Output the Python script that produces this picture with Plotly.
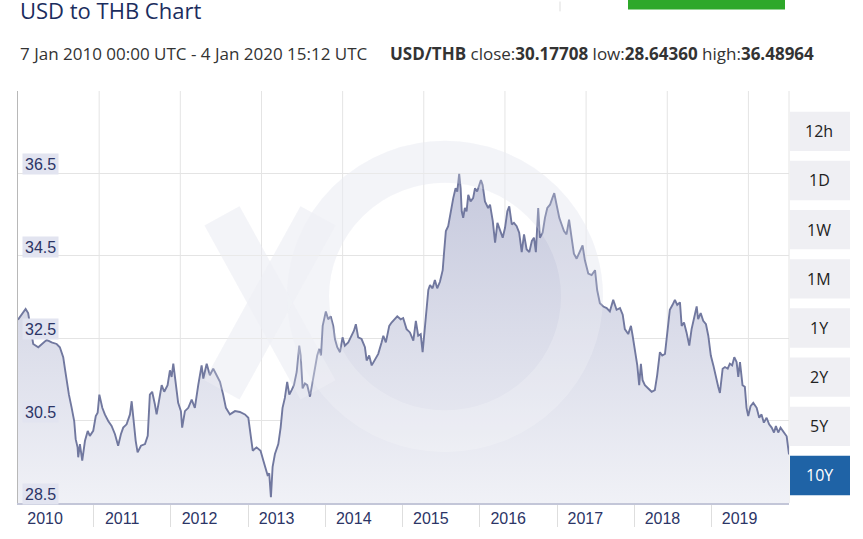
import plotly.graph_objects as go

# ---------------- data ----------------
dates = [
    "2010-01-07", "2010-02-12", "2010-02-24", "2010-03-09", "2010-03-20", "2010-04-13", "2010-04-29",
    "2010-05-23", "2010-06-15", "2010-07-09", "2010-07-24", "2010-08-09", "2010-08-17", "2010-08-25",
    "2010-09-05", "2010-09-18", "2010-09-30", "2010-10-07", "2010-10-16", "2010-10-19", "2010-10-27",
    "2010-11-07", "2010-11-20", "2010-12-03", "2010-12-13", "2010-12-29",
    "2011-01-10", "2011-01-19", "2011-01-27", "2011-02-10", "2011-02-22", "2011-03-10", "2011-03-26",
    "2011-04-11", "2011-04-26", "2011-05-09", "2011-05-20", "2011-06-05", "2011-06-21", "2011-06-29",
    "2011-07-06", "2011-07-18", "2011-07-27", "2011-08-12", "2011-08-31", "2011-09-13", "2011-09-23",
    "2011-10-04", "2011-10-17", "2011-10-25", "2011-11-05", "2011-11-18", "2011-11-30", "2011-12-16",
    "2011-12-27",
    "2012-01-04", "2012-01-12", "2012-01-23", "2012-02-04", "2012-02-17", "2012-02-23", "2012-03-07",
    "2012-03-23", "2012-04-08", "2012-04-23", "2012-05-09", "2012-05-25", "2012-06-02", "2012-06-18",
    "2012-07-03", "2012-07-19", "2012-08-04", "2012-08-20", "2012-09-04", "2012-09-17", "2012-10-06",
    "2012-10-30", "2012-11-22", "2012-12-16",
    "2013-01-01", "2013-01-09", "2013-01-22", "2013-02-09", "2013-02-28", "2013-03-13", "2013-03-25",
    "2013-04-02", "2013-04-10", "2013-04-18", "2013-04-26", "2013-05-07", "2013-05-23", "2013-06-03",
    "2013-06-12", "2013-06-23", "2013-07-04", "2013-07-14", "2013-07-25", "2013-08-05", "2013-08-18",
    "2013-08-30", "2013-09-06", "2013-09-15", "2013-09-26", "2013-10-07", "2013-10-20", "2013-11-01",
    "2013-11-12", "2013-11-23", "2013-12-03", "2013-12-11", "2013-12-19",
    "2014-01-03", "2014-01-14", "2014-01-26", "2014-02-07", "2014-02-15", "2014-02-26", "2014-03-11",
    "2014-03-23", "2014-04-03", "2014-04-19", "2014-05-05", "2014-05-16", "2014-05-25", "2014-06-05",
    "2014-06-21", "2014-07-07", "2014-07-15", "2014-07-27", "2014-08-08", "2014-08-23", "2014-09-08",
    "2014-09-24", "2014-10-02", "2014-10-14", "2014-10-30", "2014-11-10", "2014-11-26", "2014-12-07",
    "2014-12-23",
    "2015-01-04", "2015-01-20", "2015-02-05", "2015-02-21", "2015-03-05", "2015-03-16", "2015-03-28",
    "2015-04-06", "2015-04-17", "2015-04-28", "2015-05-03", "2015-05-11", "2015-05-23", "2015-06-03",
    "2015-06-14", "2015-06-27", "2015-07-10", "2015-07-16", "2015-07-25", "2015-08-05", "2015-08-17",
    "2015-08-29", "2015-09-09", "2015-09-17", "2015-09-26", "2015-10-03", "2015-10-08", "2015-10-15",
    "2015-10-23", "2015-10-31", "2015-11-08", "2015-11-19", "2015-12-01", "2015-12-10", "2015-12-20",
    "2015-12-30",
    "2016-01-07", "2016-01-15", "2016-01-26", "2016-02-10", "2016-02-19", "2016-03-03", "2016-03-14",
    "2016-03-25", "2016-04-06", "2016-04-19", "2016-04-30", "2016-05-11", "2016-05-20", "2016-06-01",
    "2016-06-11", "2016-06-24", "2016-07-06", "2016-07-18", "2016-07-29", "2016-08-10", "2016-08-23",
    "2016-09-04", "2016-09-14", "2016-09-23", "2016-10-04", "2016-10-12", "2016-10-25", "2016-11-05",
    "2016-11-16", "2016-11-29", "2016-12-10", "2016-12-19", "2016-12-30",
    "2017-01-12", "2017-01-23", "2017-02-03", "2017-02-15", "2017-02-27", "2017-03-11", "2017-03-22",
    "2017-04-04", "2017-04-20", "2017-05-02", "2017-05-13", "2017-05-29", "2017-06-14", "2017-06-30",
    "2017-07-10", "2017-07-23", "2017-08-08", "2017-08-24", "2017-09-08", "2017-09-24", "2017-10-10",
    "2017-10-26", "2017-11-08", "2017-11-18", "2017-12-04", "2017-12-17", "2017-12-25",
    "2018-01-05", "2018-01-16", "2018-01-25", "2018-02-02", "2018-02-10", "2018-02-21", "2018-03-09",
    "2018-03-25", "2018-04-09", "2018-04-20", "2018-05-03", "2018-05-14", "2018-05-27", "2018-06-07",
    "2018-06-19", "2018-07-02", "2018-07-13", "2018-07-24", "2018-08-06", "2018-08-14", "2018-08-25",
    "2018-09-06", "2018-09-19", "2018-09-30", "2018-10-11", "2018-10-24", "2018-10-31", "2018-11-12",
    "2018-11-24", "2018-12-07", "2018-12-18", "2018-12-30",
    "2019-01-11", "2019-01-23", "2019-02-03", "2019-02-11", "2019-02-24", "2019-03-07", "2019-03-20",
    "2019-03-30", "2019-04-10", "2019-04-20", "2019-05-01", "2019-05-09", "2019-05-17", "2019-05-29",
    "2019-06-09", "2019-06-17", "2019-06-25", "2019-07-06", "2019-07-19", "2019-08-04", "2019-08-16",
    "2019-08-27", "2019-09-07", "2019-09-20", "2019-10-02", "2019-10-14", "2019-10-25", "2019-11-03",
    "2019-11-14", "2019-11-25", "2019-12-08", "2019-12-17", "2019-12-24", "2020-01-04",
]

rates = [
    32.95, 33.21, 33.11, 32.72, 32.36, 32.28, 32.36, 32.46, 32.40, 32.36, 32.28, 32.04, 31.76, 31.44,
    31.13, 30.81, 30.49, 30.05, 29.85, 29.61, 29.93, 29.53, 30.01, 30.25, 30.13, 30.25,
    30.61, 30.69, 31.13, 30.81, 30.65, 30.49, 30.37, 30.17, 29.89, 30.17, 30.33, 30.41, 30.65, 30.97,
    30.57, 30.01, 29.73, 29.89, 29.93, 30.13, 31.13, 31.20, 30.89, 30.65, 30.97, 31.36, 31.20, 31.36,
    31.72,
    31.56, 31.88, 31.36, 30.93, 30.73, 30.33, 30.73, 30.81, 31.01, 30.81, 31.36, 31.84, 31.52, 31.88,
    31.60, 31.76, 31.60, 31.44, 31.13, 30.81, 30.65, 30.73, 30.71, 30.65,
    30.57, 30.25, 29.77, 29.85, 29.77, 29.53, 29.34, 29.18, 29.22, 28.64, 29.38, 29.69, 29.93, 30.33,
    30.81, 31.05, 31.44, 31.13, 31.24, 31.36, 31.68, 32.32, 32.08, 31.28, 31.40, 31.36, 31.08, 31.44,
    31.68, 32.08, 32.24, 32.08, 32.80,
    33.15, 32.96, 33.03, 32.80, 32.48, 32.28, 32.16, 32.52, 32.32, 32.40, 32.56, 32.68, 32.84, 32.52,
    32.48, 32.28, 31.96, 32.08, 31.84, 31.96, 32.12, 32.40, 32.56, 32.40, 32.80, 32.88, 32.96, 33.03,
    32.96,
    32.99, 32.72, 32.64, 32.44, 32.92, 32.56, 32.60, 32.16, 32.80, 33.43, 33.67, 33.79, 33.71, 33.91,
    33.71, 33.87, 34.15, 34.55, 35.10, 35.22, 35.58, 35.90, 36.14, 36.06, 36.49, 36.14, 35.58, 35.42,
    35.66, 35.58, 35.98, 35.82, 35.90, 36.14, 36.06, 36.22,
    36.34, 36.22, 35.82, 35.66, 35.74, 35.34, 34.82, 35.30, 35.14, 34.94, 35.18, 35.58, 35.70, 35.26,
    35.30, 35.22, 35.06, 34.59, 35.02, 34.66, 34.59, 34.86, 34.94, 34.59, 35.66, 34.94, 35.06, 35.42,
    35.66, 35.74, 35.90, 36.02, 35.74,
    35.42, 35.26, 35.10, 35.02, 35.38, 34.94, 34.55, 34.43, 34.63, 34.75, 34.39, 34.07, 34.03, 34.15,
    33.67, 33.35, 33.27, 33.23, 33.15, 33.43, 33.19, 33.23, 33.07, 32.72, 32.60, 32.80, 32.56,
    32.24, 31.84, 31.36, 31.88, 31.48, 31.36, 31.28, 31.20, 31.24, 31.60, 32.16, 32.08, 32.12, 32.72,
    33.19, 33.31, 33.43, 33.31, 33.37, 32.80, 32.88, 32.64, 32.32, 32.72, 32.96, 33.27, 32.96, 33.11,
    32.92, 32.84, 32.56, 32.08,
    31.84, 31.52, 31.32, 31.17, 31.76, 31.80, 31.76, 31.88, 31.84, 32.04, 31.92, 31.56, 31.92, 31.36,
    31.32, 30.81, 30.61, 30.85, 30.93, 30.81, 30.57, 30.65, 30.45, 30.57, 30.41, 30.33, 30.21, 30.37,
    30.21, 30.33, 30.25, 30.17, 30.12, 29.68,
]

y_tick_values = [28.5, 30.5, 32.5, 34.5, 36.5]
y_grid_step = 2
y_range = [28.5, 38.5]
year_labels = ["2010", "2011", "2012", "2013", "2014", "2015", "2016", "2017", "2018", "2019"]
range_buttons = ["12h", "1D", "1W", "1M", "1Y", "2Y", "5Y", "10Y"]
active_button = "10Y"

title_text = "USD to THB Chart"
period_text = "7 Jan 2010 00:00 UTC - 4 Jan 2020 15:12 UTC"
pair_name = "USD/THB"
close_value = "30.17708"
low_value = "28.64360"
high_value = "36.48964"

# ---------------- layout helpers ----------------
W, H = 863, 539
ML, MR, MT, MB = 18, 74, 91, 29
PW, PH = W - ML - MR, H - MT - MB


def px(x):
    return (x - ML) / PW


def py(y):
    return (H - MB - y) / PH


label_dates = [f"{y}-05-15" for y in year_labels]
year_starts = [f"{y}-01-01" for y in year_labels[1:]]

NAVY = "#2c3566"
AXIS_FONT = "Liberation Sans, Arial, sans-serif"
UI_FONT = "Open Sans, Noto Sans, sans-serif"

fig = go.Figure()

fig.add_trace(go.Scatter(
    x=dates, y=rates, mode="lines",
    line=dict(color="#71789f", width=1.9),
    fill="tozeroy",
    fillgradient=dict(type="vertical", start=28.5, stop=36.5,
                      colorscale=[[0, "#f1f2f7"], [1, "#c6c9dd"]]),
    hoverinfo="skip", showlegend=False,
))

shapes = []
# vertical grid (independent of the dates, as in the reference)
n_vgrid = 9
for k in range(1, n_vgrid + 1):
    shapes.append(dict(type="line", xref="paper", yref="paper", x0=k / 9.5, x1=k / 9.5, y0=0, y1=1,
                       line=dict(color="#e4e4e4", width=1), layer="below"))
# right border of plot
shapes.append(dict(type="line", xref="paper", yref="paper", x0=1, x1=1, y0=0, y1=1,
                   line=dict(color="#e4e4e4", width=1), layer="below"))

# watermark (faint "xe")
wm_gray = "rgba(222,225,236,0.42)"
wm_white = "rgba(255,255,255,0.2)"
for col, lay in ((wm_gray, "below"), (wm_white, "above")):
    shapes.append(dict(type="circle", xref="paper", yref="paper",
                       x0=px(445 - 137), x1=px(445 + 137), y0=py(437), y1=py(163),
                       line=dict(color=col, width=42), fillcolor="rgba(0,0,0,0)", layer=lay))
    shapes.append(dict(type="line", xref="paper", yref="paper",
                       x0=px(222), y0=py(218), x1=px(318), y1=py(395),
                       line=dict(color=col, width=40), layer=lay))
    shapes.append(dict(type="line", xref="paper", yref="paper",
                       x0=px(318), y0=py(218), x1=px(222), y1=py(395),
                       line=dict(color=col, width=40), layer=lay))

# top decorations
shapes.append(dict(type="rect", xref="paper", yref="paper", x0=px(628), x1=px(785), y0=py(8), y1=py(-2),
                   fillcolor="#2ea82a", line=dict(width=0)))
shapes.append(dict(type="line", xref="paper", yref="paper", x0=px(560), x1=px(560), y0=py(10), y1=py(0),
                   line=dict(color="#dddddd", width=1)))

annotations = []
# y labels with tinted boxes
for v in y_tick_values:
    annotations.append(dict(
        x=0, xref="paper", xanchor="left", xshift=4,
        y=v, yref="y", yanchor="bottom", yshift=-2,
        text=f"{v}", showarrow=False,
        font=dict(family=AXIS_FONT, size=16, color=NAVY),
        bgcolor="#e2e4f0", borderpad=2, height=16,
    ))

# range buttons
for i, b in enumerate(range_buttons):
    top = 112 + 50 * i
    on = (b == active_button)
    shapes.append(dict(type="rect", xref="paper", yref="paper",
                       x0=px(790), x1=px(850), y0=py(top + 40), y1=py(top),
                       fillcolor="#1f63a6" if on else "#efeff3", line=dict(width=0)))
    annotations.append(dict(x=px(819), y=py(top + 20), xref="paper", yref="paper",
                            text=b, showarrow=False, xanchor="center", yanchor="middle",
                            font=dict(family=UI_FONT, size=16, color="#ffffff" if on else "#222222")))

# header texts
annotations.append(dict(x=0, y=py(9), xref="paper", yref="paper", xanchor="left", yanchor="middle",
                        text=title_text, showarrow=False,
                        font=dict(family=UI_FONT, size=22, color="#1b2d5e")))
annotations.append(dict(x=0, y=py(53), xref="paper", yref="paper", xanchor="left", yanchor="middle",
                        text=period_text, showarrow=False,
                        font=dict(family=UI_FONT, size=17, color="#333333")))
annotations.append(dict(x=px(388), y=py(53), xref="paper", yref="paper", xanchor="left", yanchor="middle",
                        text=(f"<b>{pair_name}</b> close:<b>{close_value}</b> "
                              f"low:<b>{low_value}</b> high:<b>{high_value}</b>"),
                        showarrow=False,
                        font=dict(family=UI_FONT, size=17, color="#333333")))

fig.update_layout(
    width=W, height=H,
    margin=dict(l=ML, r=MR, t=MT, b=MB, pad=0),
    paper_bgcolor="#ffffff", plot_bgcolor="#ffffff",
    showlegend=False, hovermode=False,
    shapes=shapes, annotations=annotations,
    xaxis=dict(
        type="date", range=[dates[0], dates[-1]],
        tickmode="array", tickvals=label_dates, ticktext=year_labels,
        ticks="", showgrid=False, zeroline=False,
        showline=True, linecolor="#c3c6d8", linewidth=1.5,
        tickfont=dict(family=AXIS_FONT, size=16, color=NAVY),
        minor=dict(tickmode="array", tickvals=year_starts, ticks="outside", ticklen=22,
                   tickcolor="#dedede", tickwidth=1, showgrid=False),
        fixedrange=True,
    ),
    yaxis=dict(
        range=y_range, tick0=y_range[0], dtick=y_grid_step, tickmode="linear",
        showticklabels=False, ticks="",
        showgrid=True, gridcolor="#e4e4e4", gridwidth=1, zeroline=False,
        showline=True, linecolor="#b8b8b8", linewidth=1,
        fixedrange=True,
    ),
)

fig.write_html("out.html", config={"displayModeBar": False},
               post_script="document.body.style.margin='0';document.body.style.overflow='hidden';")
